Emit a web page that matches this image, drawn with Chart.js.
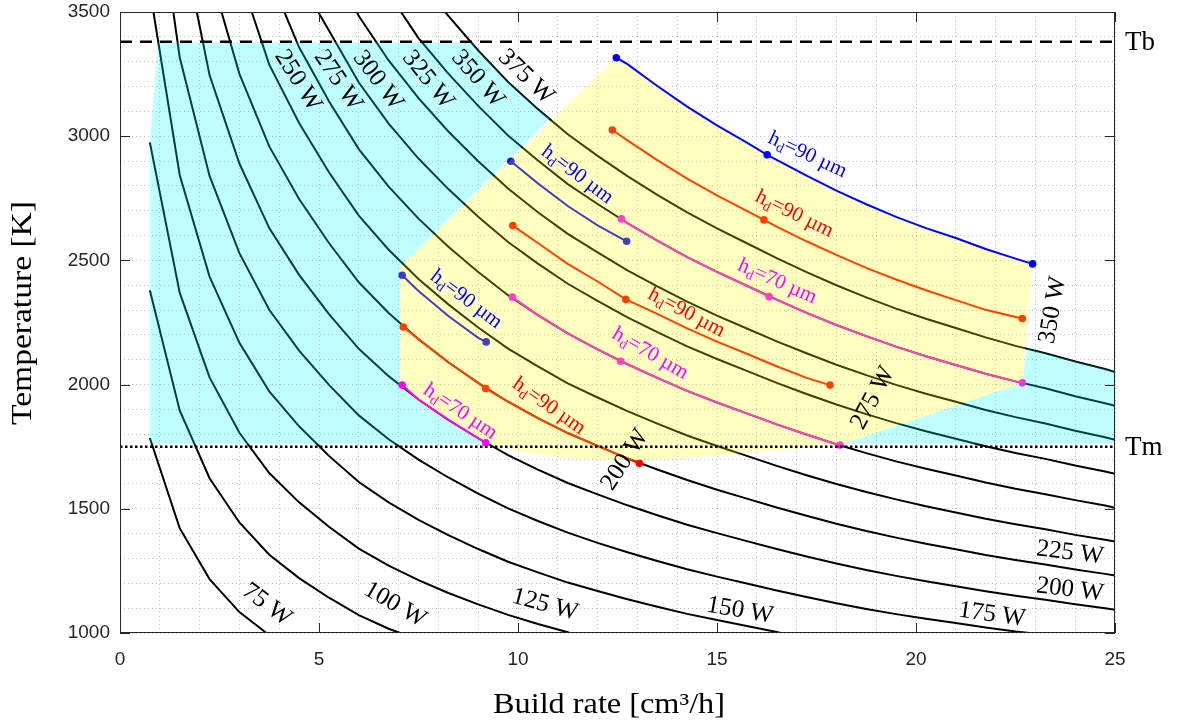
<!DOCTYPE html>
<html>
<head>
<meta charset="utf-8">
<script src="https://cdn.jsdelivr.net/npm/chart.js@4.4.1/dist/chart.umd.min.js"></script>
<style>
html,body{margin:0;padding:0;background:#fff;}
#wrap{width:1178px;height:725px;position:relative;}
</style>
</head>
<body>
<div id="wrap"><canvas id="c"></canvas></div>
<script>
// ================= DATA =================
// Isopower curves: build rate [cm3/h] -> temperature [K]
const br75  = [0.75,1.5,2.25,3,3.68];
const t75   = [1785,1422,1217,1084,1000];
const br100 = [0.75,1.5,2.25,3,3.75,4.5,5.25,6,6.75,7.04];
const t100  = [2380,1896,1623,1445,1315,1221,1142,1072,1017,1000];
const br125 = [0.75,1.5,2.25,3,3.75,4.5,5.25,6,6.75,7.5,8.25,9,9.75,10.5,11.25,11.3];
const t125  = [2975,2370,2029,1806,1644,1526,1428,1340,1271,1213,1161,1115,1073,1036,1003,1000];
const br150 = [0.84,1.5,2.25,3,3.75,4.5,5.25,6,6.75,7.5,8.25,9,9.75,10.5,11.25,12,12.75,13.5,14.25,15,15.75,16.5,16.6];
const t150  = [3500,2844,2435,2168,1973,1832,1713,1608,1526,1455,1394,1338,1287,1244,1203,1169,1136,1106,1077,1052,1028,1004,1000];
const br175 = [1.34,1.5,2.25,3,3.75,4.5,5.25,6,6.75,7.5,8.25,9,9.75,10.5,11.25,12,12.75,13.5,14.25,15,15.75,16.5,17.25,18,18.75,19.5,20.25,21,21.75,22.5,22.85];
const t175  = [3500,3318,2840,2529,2301,2137,1999,1876,1780,1698,1626,1561,1502,1451,1404,1363,1325,1290,1257,1227,1199,1171,1145,1120,1097,1076,1057,1040,1022,1006,1000];
const br200 = [1.93,2.25,3,3.75,4.5,5.25,6,6.75,7.5,8.25,9,9.75,10.5,11.25,12,12.75,13.5,14.25,15,15.75,16.5,17.25,18,18.75,19.5,20.25,21,21.75,22.5,23.25,24,24.75,25];
const t200  = [3500,3246,2890,2630,2442,2284,2144,2034,1940,1858,1784,1716,1658,1604,1558,1514,1474,1436,1402,1370,1338,1308,1280,1254,1230,1208,1188,1168,1150,1134,1116,1100,1094];
const br225 = [2.55,3,3.75,4.5,5.25,6,6.75,7.5,8.25,9,9.75,10.5,11.25,12,12.75,13.5,14.25,15,15.75,16.5,17.25,18,18.75,19.5,20.25,21,21.75,22.5,23.25,24,24.75,25];
const t225  = [3500,3251,2959,2747,2570,2412,2288,2183,2090,2007,1931,1865,1805,1753,1703,1658,1616,1577,1541,1505,1472,1440,1411,1384,1359,1337,1314,1294,1276,1256,1238,1231];
const br250 = [3.31,3.75,4.5,5.25,6,6.75,7.5,8.25,9,9.75,10.5,11.25,12,12.75,13.5,14.25,15,15.75,16.5,17.25,18,18.75,19.5,20.25,21,21.75,22.5,23.25,24,24.75,25];
const t250  = [3500,3288,3053,2855,2680,2543,2425,2323,2230,2145,2073,2005,1948,1893,1843,1795,1753,1713,1673,1635,1600,1568,1538,1510,1485,1460,1438,1418,1395,1375,1368];
const br275 = [4.13,4.5,5.25,6,6.75,7.5,8.25,9,9.75,10.5,11.25,12,12.75,13.5,14.25,15,15.75,16.5,17.25,18,18.75,19.5,20.25,21,21.75,22.5,23.25,24,24.75,25];
const t275  = [3500,3358,3141,2948,2797,2668,2555,2453,2360,2280,2206,2142,2082,2027,1975,1928,1884,1840,1799,1760,1724,1691,1661,1634,1606,1581,1559,1535,1513,1504];
const br300 = [4.98,5.25,6,6.75,7.5,8.25,9,9.75,10.5,11.25,12,12.75,13.5,14.25,15,15.75,16.5,17.25,18,18.75,19.5,20.25,21,21.75,22.5,23.25,24,24.75,25];
const t300  = [3500,3426,3216,3051,2910,2787,2676,2574,2487,2406,2337,2271,2211,2154,2103,2055,2007,1962,1920,1881,1845,1812,1782,1752,1725,1701,1674,1650,1641];
const br325 = [5.95,6,6.75,7.5,8.25,9,9.75,10.5,11.25,12,12.75,13.5,14.25,15,15.75,16.5,17.25,18,18.75,19.5,20.25,21,21.75,22.5,23.25,24,24.75,25];
const t325  = [3500,3484,3305,3153,3019,2899,2789,2694,2607,2532,2460,2395,2334,2278,2226,2174,2126,2080,2038,1999,1963,1931,1898,1869,1843,1814,1788,1778];
const br350 = [7.06,7.5,8.25,9,9.75,10.5,11.25,12,12.75,13.5,14.25,15,15.75,16.5,17.25,18,18.75,19.5,20.25,21,21.75,22.5,23.25,24,24.75,25];
const t350  = [3500,3395,3252,3122,3003,2902,2807,2727,2650,2580,2513,2454,2398,2342,2289,2240,2195,2153,2114,2079,2044,2013,1985,1953,1925,1915];
const br375 = [8.17,8.25,9,9.75,10.5,11.25,12,12.75,13.5,14.25,15,15.75,16.5,17.25,18,18.75,19.5,20.25,21,21.75,22.5,23.25,24,24.75,25];
const t375  = [3500,3484,3345,3218,3109,3008,2921,2839,2764,2693,2629,2569,2509,2453,2400,2351,2306,2265,2228,2190,2156,2126,2093,2063,2051];

// Process-window segments (hd = hatch distance)
const blue1X = [12.47,12.75,13.5,14.25,15,15.75,16.26,17.25,18,18.75,19.5,20.25,21,21.75,22.5,22.93];
const blue1T = [3316,3290,3202,3119,3044,2974,2925,2841,2781,2726,2675,2630,2590,2546,2507,2486];
const blue1Marks = [0,6,15];
const red2X = [12.37,12.75,13.5,14.25,15,15.75,16.18,16.5,17.25,18,18.75,19.5,20.25,21,21.75,22.5,22.67];
const red2T = [3025,2983,2904,2829,2762,2699,2663,2636,2577,2522,2470,2423,2380,2340,2301,2272,2266];
const red2Marks = [0,6,16];
const blue3X = [9.82,10.5,11.25,12,12.73];
const blue3T = [2899,2810,2719,2641,2577];
const blue3Marks = [0,4];
const mag4X = [12.6,12.75,13.5,14.25,15,15.75,16.31,16.5,17.25,18,18.75,19.5,20.25,21,21.75,22.5,22.67];
const mag4T = [2667,2650,2580,2513,2454,2398,2354,2342,2289,2240,2195,2153,2114,2079,2044,2013,2007];
const mag4Marks = [0,6,16];
const red5X = [9.87,10.5,11.25,12,12.71,13.5,14.25,15,15.75,16.5,17.25,17.84];
const red5T = [2640,2570,2486,2415,2343,2285,2226,2173,2124,2074,2027,1998];
const red5Marks = [0,4,11];
const mag6X = [9.86,10.5,11.25,12,12.58,12.75,13.5,14.25,15,15.75,16.5,17.25,18,18.09];
const mag6T = [2352,2280,2206,2142,2094,2082,2027,1975,1928,1884,1840,1799,1760,1757];
const mag6Marks = [0,4,13];
const blue7X = [7.09,7.5,8.25,9,9.2];
const blue7T = [2440,2377,2276,2188,2172];
const blue7Marks = [0,4];
const red8X = [7.12,7.5,8.25,9,9.19,9.75,10.5,11.25,12,12.75,13.05];
const red8T = [2232,2183,2090,2007,1984,1931,1865,1805,1753,1703,1683];
const red8Marks = [0,4,10];
const mag9X = [7.09,7.5,8.25,9,9.19];
const mag9T = [1998,1940,1858,1784,1766];
const mag9Marks = [0,4];

// Reference temperatures
const Tb = 3380;   // boiling
const Tm = 1750;   // melting

// Region outlines
const arcX = [18.09,17.16,16.1,15.08,14,13.05,12.2,11.3,10.05,9.19];
const arcT = [1757,1745,1732,1716,1703,1695,1697,1704,1730,1766];
const cyanAX = [0.75,0.75,0.96,8.84,9,9.75,10.5,10.8,7.04,7.04];
const cyanAT = [1762,2980,3378,3378,3345,3218,3109,3071,2474,1998];
const cyanBX = [18.09,22.67,22.78,23.25,24,24.75,25,25,18.09];
const cyanBT = [1757,2007,2146,2126,2093,2063,2051,1762,1762];

// Tick labels
const xTickLabels = [0,5,10,15,20,25];
const yTickLabels = [1000,1500,2000,2500,3000,3500];

// ================= CHART =================
const SERIF = '"Liberation Serif", "DejaVu Serif", serif';
const SANS = '"Liberation Sans", Arial, sans-serif';
const pts = (xs, ys) => xs.map((x, i) => ({x, y: ys[i]}));

function seg(xs, ys, marks, color) {
  return {
    data: pts(xs, ys), showLine: true, borderColor: color, borderWidth: 2,
    backgroundColor: color, pointBackgroundColor: color, pointBorderWidth: 0,
    pointRadius: c => marks.includes(c.dataIndex) ? 3.8 : 0, tension: 0
  };
}
function curve(xs, ys) {
  return { data: pts(xs, ys), showLine: true, borderColor: '#000', borderWidth: 2,
           pointRadius: 0, tension: 0 };
}

const datasets = [
  seg(blue1X, blue1T, blue1Marks, '#0000ff'),   // 0 (on top of fills)
  seg(mag9X, mag9T, mag9Marks, '#ff00ff'),      // 1 (on top of fills)
  seg(red2X, red2T, red2Marks, '#ff0000'),
  seg(blue3X, blue3T, blue3Marks, '#0000ff'),
  seg(mag4X, mag4T, mag4Marks, '#ff00ff'),
  seg(red5X, red5T, red5Marks, '#ff0000'),
  seg(mag6X, mag6T, mag6Marks, '#ff00ff'),
  seg(blue7X, blue7T, blue7Marks, '#0000ff'),
  seg(red8X, red8T, red8Marks, '#ff0000'),
  curve(br75, t75), curve(br100, t100), curve(br125, t125), curve(br150, t150),
  curve(br175, t175), curve(br200, t200), curve(br225, t225), curve(br250, t250),
  curve(br275, t275), curve(br300, t300), curve(br325, t325), curve(br350, t350),
  curve(br375, t375)
];

// annotation texts (data coordinates, angle in degrees)
const powerLabels = [
  ['250 W', 4.47, 3224, 58], ['275 W', 5.48, 3224, 56], ['300 W', 6.48, 3224, 53],
  ['325 W', 7.74, 3227, 51], ['350 W', 8.99, 3231, 49], ['375 W', 10.2, 3239, 44],
  ['75 W', 3.69, 1114, 37], ['100 W', 6.91, 1114, 30], ['125 W', 10.68, 1114, 15],
  ['150 W', 15.58, 1090, 10], ['175 W', 21.91, 1074, 8], ['200 W', 23.87, 1174, 7],
  ['225 W', 23.87, 1323, 7], ['200 W', 12.69, 1697, -57], ['275 W', 18.92, 1946, -62],
  ['350 W', 23.44, 2300, -80]
];
const hdLabels = [
  ['90', 17.29, 2930, 25, '#0000ff'], ['90', 16.96, 2692, 26, '#ff0000'],
  ['90', 11.51, 2850, 37, '#0000ff'], ['70', 16.53, 2420, 24, '#ff00ff'],
  ['90', 14.25, 2295, 28, '#ff0000'], ['70', 13.34, 2130, 30, '#ff00ff'],
  ['90', 8.72, 2348, 37, '#0000ff'], ['90', 10.80, 1918, 35, '#ff0000'],
  ['70', 8.57, 1896, 34, '#ff00ff']
];

function polyPath(chart, xs, ys) {
  const sx = chart.scales.x, sy = chart.scales.y, ctx = chart.ctx;
  xs.forEach((x, i) => {
    const X = sx.getPixelForValue(x), Y = sy.getPixelForValue(ys[i]);
    if (i === 0) ctx.moveTo(X, Y); else ctx.lineTo(X, Y);
  });
}
function fillPoly(chart, xs, ys, color) {
  const ctx = chart.ctx;
  ctx.beginPath(); polyPath(chart, xs, ys); ctx.closePath();
  ctx.fillStyle = color; ctx.fill();
}
function drawFills(chart) {
  const ctx = chart.ctx, a = chart.chartArea;
  ctx.save();
  ctx.beginPath(); ctx.rect(a.left, a.top, a.right - a.left, a.bottom - a.top); ctx.clip();
  const cax = cyanAX.concat(mag9X.slice(1), [9.19]);
  const cat = cyanAT.concat(mag9T.slice(1), [1762]);
  fillPoly(chart, cax, cat, 'rgba(0,255,255,0.25)');
  fillPoly(chart, cyanBX, cyanBT, 'rgba(0,255,255,0.25)');
  const yx = [7.04].concat(blue1X, [22.67], arcX, mag9X.slice(0, -1).reverse(), [7.04]);
  const yt = [2474].concat(blue1T, [2007], arcT, mag9T.slice(0, -1).reverse(), [1998]);
  fillPoly(chart, yx, yt, 'rgba(255,255,0,0.25)');
  ctx.restore();
}

function hdText(ctx, X, Y, ang, val, color) {
  ctx.save(); ctx.translate(X, Y); ctx.rotate(ang * Math.PI / 180);
  const big = '21px ' + SERIF, small = '14px ' + SERIF;
  ctx.font = big; const wh = ctx.measureText('h').width;
  ctx.font = small; const wd = ctx.measureText('d').width;
  const rest = '=' + val + ' \u00b5m';
  ctx.font = big; const wr = ctx.measureText(rest).width;
  let x0 = -(wh + wd + wr) / 2;
  ctx.fillStyle = color; ctx.textBaseline = 'alphabetic';
  ctx.font = big; ctx.fillText('h', x0, 7); x0 += wh;
  ctx.font = small; ctx.fillText('d', x0, 11); x0 += wd;
  ctx.font = big; ctx.fillText(rest, x0, 7);
  ctx.restore();
}

// draw text stretched to a given width (serif face wider like the original)
function fitText(ctx, txt, w) {
  const m = ctx.measureText(txt).width;
  ctx.save(); ctx.scale(w / m, 1); ctx.fillText(txt, 0, 0); ctx.restore();
}

const decor = {
  id: 'decor',
  beforeDatasetDraw(chart, args) {
    if (args.index === 1) drawFills(chart);
  },
  afterDatasetsDraw(chart) {
    const ctx = chart.ctx, a = chart.chartArea, sx = chart.scales.x, sy = chart.scales.y;
    // Tb / Tm reference lines
    ctx.save();
    ctx.strokeStyle = '#000'; ctx.lineWidth = 2.5;
    ctx.setLineDash([12, 8]);
    let y = sy.getPixelForValue(Tb);
    ctx.beginPath(); ctx.moveTo(a.left, y); ctx.lineTo(a.right, y); ctx.stroke();
    ctx.setLineDash([2.5, 2.5]);
    y = sy.getPixelForValue(Tm);
    ctx.beginPath(); ctx.moveTo(a.left, y); ctx.lineTo(a.right, y); ctx.stroke();
    ctx.restore();

    // axes box and inward ticks
    ctx.save();
    ctx.strokeStyle = '#262626'; ctx.lineWidth = 1;
    ctx.strokeRect(Math.round(a.left) + 0.5, Math.round(a.top) + 0.5,
                   Math.round(a.right - a.left) - 1, Math.round(a.bottom - a.top) - 1);
    ctx.beginPath();
    xTickLabels.forEach(v => {
      const X = Math.round(sx.getPixelForValue(v)) + 0.5;
      ctx.moveTo(X, a.bottom); ctx.lineTo(X, a.bottom - 10);
      ctx.moveTo(X, a.top); ctx.lineTo(X, a.top + 10);
    });
    yTickLabels.forEach(v => {
      const Y = Math.round(sy.getPixelForValue(v)) + 0.5;
      ctx.moveTo(a.left, Y); ctx.lineTo(a.left + 10, Y);
      ctx.moveTo(a.right, Y); ctx.lineTo(a.right - 10, Y);
    });
    ctx.stroke();
    ctx.restore();

    // text annotations
    ctx.save();
    ctx.fillStyle = '#000'; ctx.textAlign = 'center'; ctx.textBaseline = 'middle';
    ctx.font = '25px ' + SERIF;
    powerLabels.forEach(([t, x, T, ang]) => {
      ctx.save();
      ctx.translate(sx.getPixelForValue(x), sy.getPixelForValue(T));
      ctx.rotate(ang * Math.PI / 180);
      ctx.fillText(t, 0, 0);
      ctx.restore();
    });
    ctx.restore();
    hdLabels.forEach(([v, x, T, ang, col]) =>
      hdText(ctx, sx.getPixelForValue(x), sy.getPixelForValue(T), ang, v, col));

    // Tb / Tm labels
    ctx.save();
    ctx.fillStyle = '#000'; ctx.font = '27px ' + SERIF;
    ctx.textAlign = 'left'; ctx.textBaseline = 'middle';
    ctx.fillText('Tb', a.right + 10, sy.getPixelForValue(Tb) + 1);
    ctx.fillText('Tm', a.right + 10, sy.getPixelForValue(Tm) + 1);
    ctx.restore();
    // axis titles
    ctx.save();
    ctx.fillStyle = '#000'; ctx.font = '29px ' + SERIF;
    ctx.textAlign = 'center'; ctx.textBaseline = 'middle';
    ctx.save(); ctx.translate(609, 705);
    fitText(ctx, 'Build rate [cm\u00b3/h]', 232);
    ctx.restore();
    ctx.translate(23, 313);
    ctx.rotate(-Math.PI / 2);
    fitText(ctx, 'Temperature [K]', 224);
    ctx.restore();
  }
};

new Chart(document.getElementById('c'), {
  type: 'scatter',
  data: { datasets },
  options: {
    responsive: true, maintainAspectRatio: false, animation: false, devicePixelRatio: 1,
    events: [],
    layout: { padding: { top: 12, right: 63, left: 0, bottom: 0 } },
    plugins: { legend: { display: false }, tooltip: { enabled: false } },
    scales: {
      x: {
        type: 'linear', position: 'bottom', min: 0, max: 25,
        afterFit: s => { s.height = 92; s.paddingLeft = 0; s.paddingRight = 0; },
        ticks: {
          stepSize: 1, autoSkip: false, maxRotation: 0, padding: 15, color: '#262626',
          font: { family: SANS, size: 19 },
          callback: v => xTickLabels.includes(v) ? String(v) : ''
        },
        grid: { color: '#bebebe', lineWidth: 1, drawTicks: false },
        border: { display: false, dash: [1, 3] }
      },
      y: {
        type: 'linear', position: 'left', min: 1000, max: 3500,
        afterFit: s => { s.width = 120; s.paddingTop = 0; s.paddingBottom = 0; },
        ticks: {
          stepSize: 100, autoSkip: false, padding: 10, color: '#262626',
          font: { family: SANS, size: 19 },
          callback: v => yTickLabels.includes(v) ? String(v) : ''
        },
        grid: { color: '#bebebe', lineWidth: 1, drawTicks: false },
        border: { display: false, dash: [1, 3] }
      }
    }
  },
  plugins: [decor]
});
</script>
</body>
</html>
